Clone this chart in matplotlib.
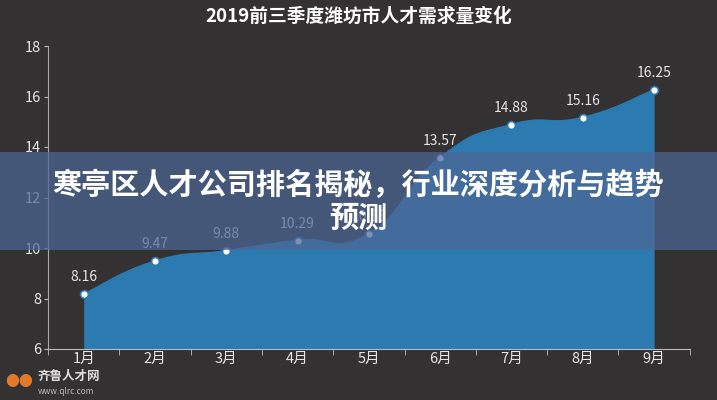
import matplotlib.pyplot as plt
import numpy as np
from matplotlib.patches import Rectangle

plt.rcParams['font.family'] = ['Noto Sans CJK SC', 'DejaVu Sans']

months = ['1月', '2月', '3月', '4月', '5月', '6月', '7月', '8月', '9月']
demand = [8.16, 9.47, 9.88, 10.29, 10.55, 13.57, 14.88, 15.16, 16.25]
title = '2019前三季度潍坊市人才需求量变化'
banner = '寒亭区人才公司排名揭秘，行业深度分析与趋势\n预测'

bg = '#333132'
area_color = '#2b7ab0'


def smooth_curve(xs, ys, k=0.5, n=30):
    # bezier through points, control points from neighbours (like echarts smooth)
    xs = np.asarray(xs, float)
    ys = np.asarray(ys, float)
    px, py = [], []
    m = len(xs)
    for i in range(m - 1):
        x0, y0 = xs[max(i - 1, 0)], ys[max(i - 1, 0)]
        x1, y1 = xs[i], ys[i]
        x2, y2 = xs[i + 1], ys[i + 1]
        x3, y3 = xs[min(i + 2, m - 1)], ys[min(i + 2, m - 1)]
        c1x, c1y = x1 + (x2 - x0) * k / 2, y1 + (y2 - y0) * k / 2
        c2x, c2y = x2 - (x3 - x1) * k / 2, y2 - (y3 - y1) * k / 2
        t = np.linspace(0, 1, n)
        bx = (1 - t) ** 3 * x1 + 3 * (1 - t) ** 2 * t * c1x + 3 * (1 - t) * t ** 2 * c2x + t ** 3 * x2
        by = (1 - t) ** 3 * y1 + 3 * (1 - t) ** 2 * t * c1y + 3 * (1 - t) * t ** 2 * c2y + t ** 3 * y2
        px.extend(bx)
        py.extend(by)
    return np.array(px), np.array(py)


fig = plt.figure(figsize=(7.17, 4.0), dpi=100, facecolor=bg)
ax = fig.add_axes([0.067, 0.1275, 0.895, 0.7575], facecolor=bg)

x = np.arange(len(months))
sx, sy = smooth_curve(x, demand)
ax.fill_between(sx, sy, 6, color=area_color, lw=0, zorder=2)
ax.plot(sx, sy, color=area_color, lw=1.5, zorder=3)
ax.scatter(x, demand, s=32, facecolor='white', edgecolor=area_color, linewidth=1.2, zorder=4)
for xi, v in zip(x, demand):
    ax.text(xi, v + 0.4, f'{v:.2f}', color='#e6e6e6', fontsize=10, ha='center', va='bottom', zorder=5)

ax.set_xlim(-0.5, len(months) - 0.5)
ax.set_ylim(6, 18)
ax.set_yticks(np.arange(6, 19, 2))
ax.set_xticks(x)
ax.set_xticklabels(months)
ax.set_xticks(np.arange(-0.5, len(months), 1), minor=True)
ax.tick_params(axis='x', which='major', length=0, pad=2, colors='#e6e6e6', labelsize=10.5)
ax.tick_params(axis='x', which='minor', length=4, color='#bbbbbb', direction='out')
ax.tick_params(axis='y', length=3, color='#bbbbbb', colors='#e6e6e6', labelsize=10.5, pad=2)
for s in ['top', 'right']:
    ax.spines[s].set_visible(False)
ax.spines['left'].set_color('#aaaaaa')
ax.spines['bottom'].set_color('#bbbbbb')

fig.text(0.5, 0.958, title, color='white', fontsize=13.5, fontweight='bold', ha='center', va='center')

# overlay banner
fig.patches.append(Rectangle((0, 0.375), 1, 0.245, transform=fig.transFigure,
                             facecolor='#4d6796', alpha=0.72, zorder=10))
fig.text(0.5, 0.497, banner, color='white', fontsize=21, fontweight='heavy', ha='center', va='center',
         linespacing=1.12, zorder=11)

# watermark
fig.text(0.008, 0.045, '●●', color='#e07a2a', fontsize=10, ha='left', va='center', zorder=11)
fig.text(0.053, 0.058, '齐鲁人才网', color='#dddddd', fontsize=9, fontweight='bold', ha='left', va='center')
fig.text(0.053, 0.022, 'www.qlrc.com', color='#bbbbbb', fontsize=6, ha='left', va='center')

plt.savefig('out.png', dpi=100, facecolor=bg)
